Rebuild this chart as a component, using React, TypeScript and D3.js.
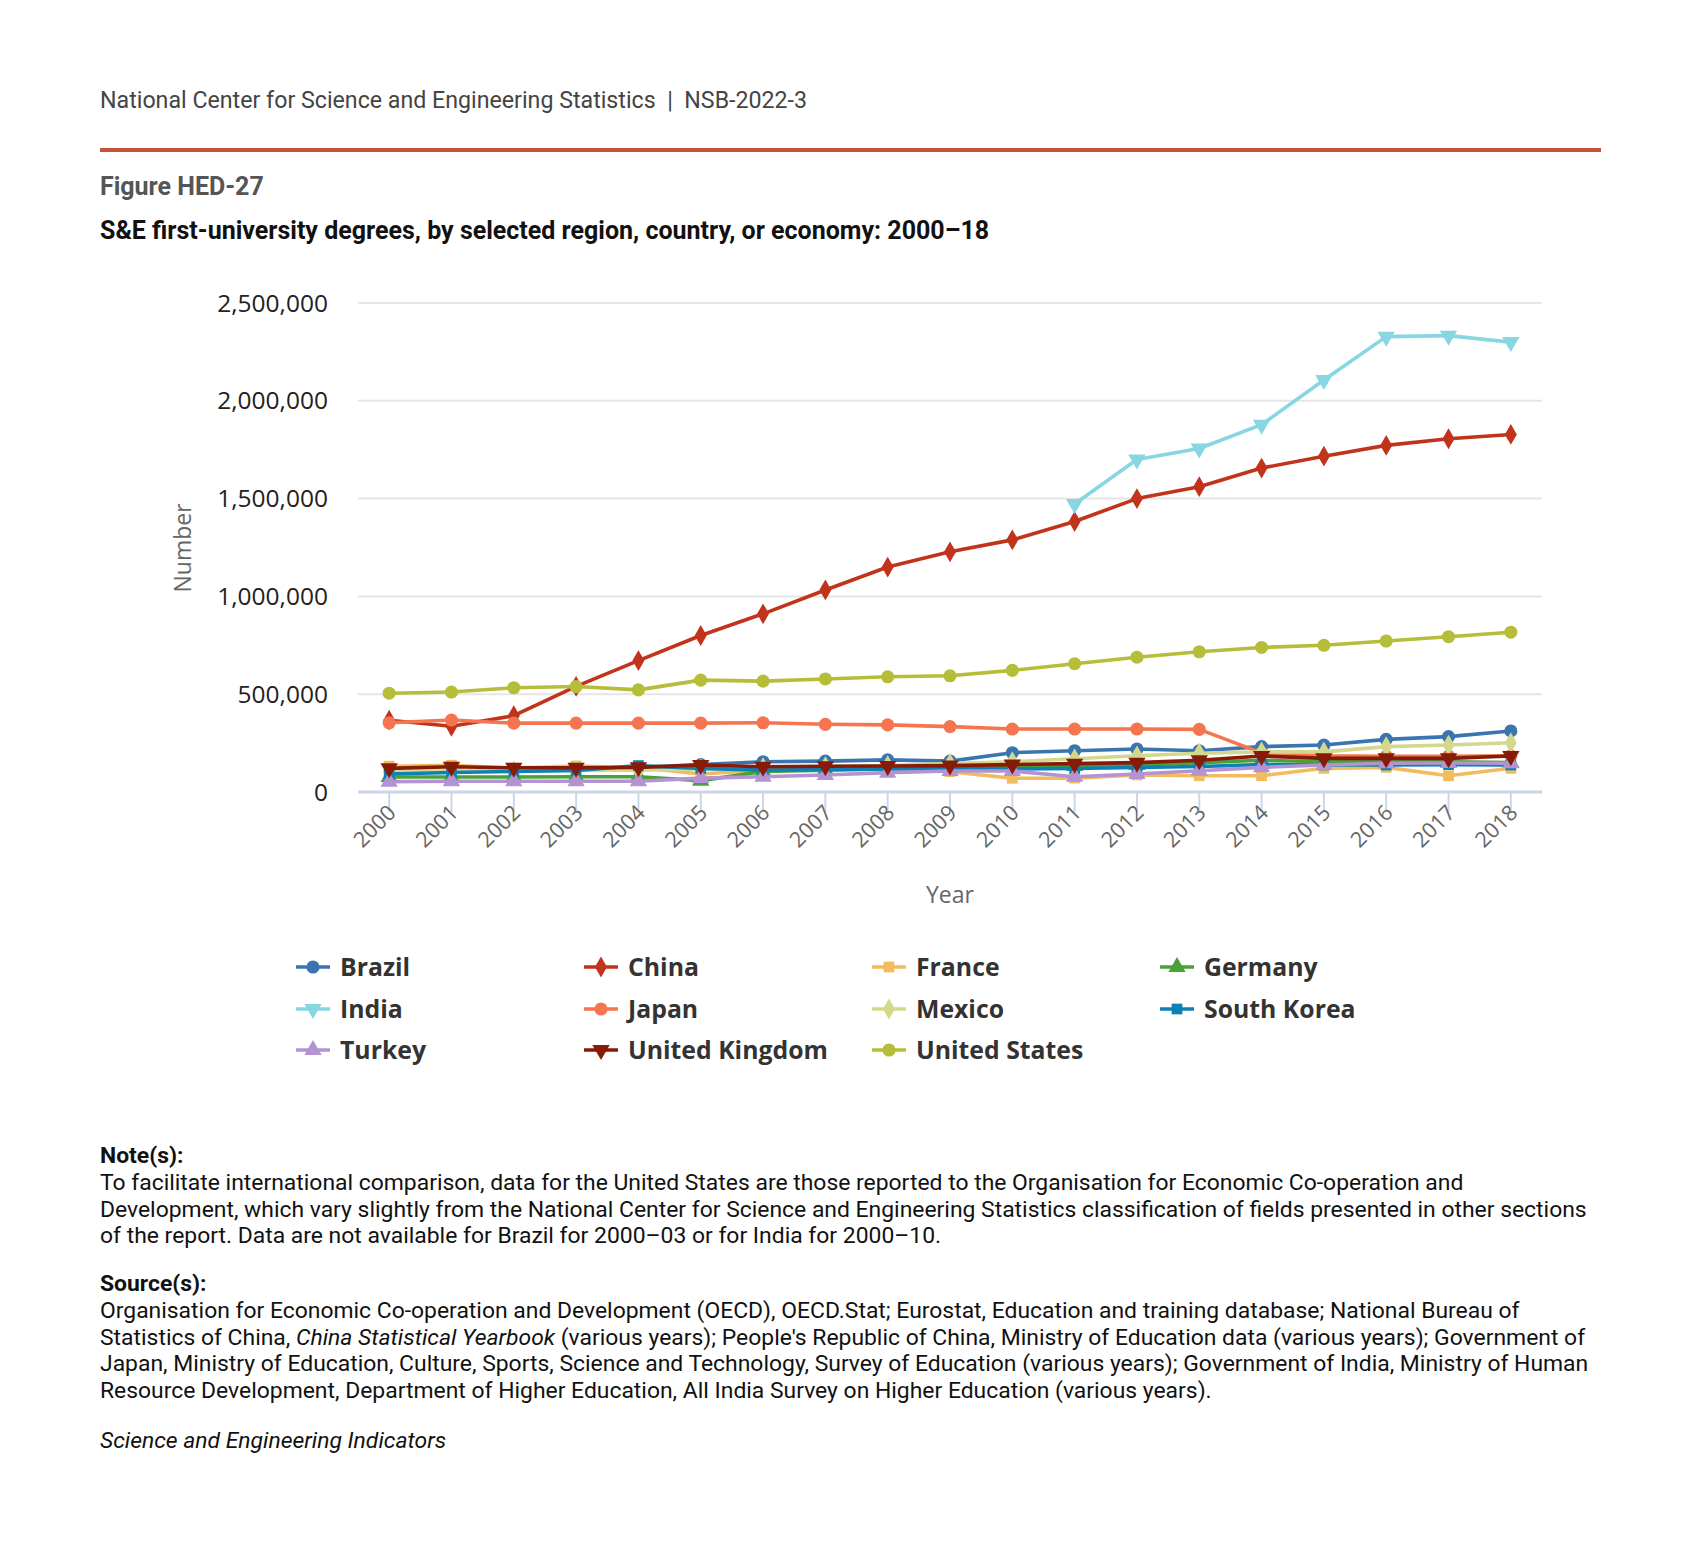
import React from "react";
import * as d3 from "d3";

const years = ["2000", "2001", "2002", "2003", "2004", "2005", "2006", "2007", "2008", "2009", "2010", "2011", "2012", "2013", "2014", "2015", "2016", "2017", "2018"];

const brazil = [null, null, null, null, 125000, 140000, 155000, 158000, 164000, 158000, 201000, 211000, 220000, 211000, 232000, 240000, 269000, 283000, 312000];
const china = [367000, 336000, 390000, 540000, 672000, 800000, 911000, 1033000, 1150000, 1228000, 1289000, 1383000, 1500000, 1561000, 1656000, 1717000, 1772000, 1806000, 1828000];
const france = [132000, 137000, 122000, 133000, 125000, 92000, 112000, 115000, 121000, 104000, 70000, 71000, 87000, 83000, 83000, 121000, 126000, 83000, 121000];
const germany = [77000, 77000, 77000, 78000, 78000, 58000, 105000, 112000, 118000, 124000, 129000, 133000, 138000, 150000, 162000, 155000, 155000, 155000, 150000];
const india = [null, null, null, null, null, null, null, null, null, null, null, 1472000, 1700000, 1756000, 1878000, 2106000, 2328000, 2333000, 2300000];
const japan = [354000, 368000, 352000, 352000, 352000, 352000, 354000, 346000, 343000, 334000, 322000, 322000, 322000, 320000, 200000, 185000, 183000, 183000, 185000];
const mexico = [105000, 108000, 108000, 110000, 112000, 118000, 125000, 130000, 135000, 145000, 155000, 170000, 185000, 198000, 205000, 205000, 232000, 240000, 252000];
const southKorea = [92000, 100000, 105000, 110000, 135000, 120000, 112000, 115000, 118000, 120000, 118000, 120000, 125000, 130000, 140000, 138000, 138000, 140000, 138000];
const turkey = [53000, 55000, 55000, 55000, 55000, 71000, 78000, 87000, 99000, 107000, 107000, 78000, 92000, 109000, 126000, 138000, 147000, 148000, 147000];
const unitedKingdom = [121000, 129000, 124000, 124000, 126000, 138000, 129000, 132000, 133000, 135000, 140000, 145000, 150000, 162000, 184000, 172000, 172000, 172000, 184000];
const unitedStates = [505000, 511000, 533000, 539000, 522000, 572000, 567000, 578000, 589000, 594000, 622000, 656000, 689000, 717000, 739000, 750000, 772000, 794000, 817000];

const yTicks = [0, 500000, 1000000, 1500000, 2000000, 2500000];

const series = [
  { name: "Brazil", values: brazil, color: "#3b75af", symbol: d3.symbolCircle },
  { name: "China", values: china, color: "#c1341b", symbol: d3.symbolDiamond },
  { name: "France", values: france, color: "#f2bb5e", symbol: d3.symbolSquare },
  { name: "Germany", values: germany, color: "#4aa03a", symbol: d3.symbolTriangle },
  { name: "India", values: india, color: "#87d6e2", symbol: "down" },
  { name: "Japan", values: japan, color: "#f4754f", symbol: d3.symbolCircle },
  { name: "Mexico", values: mexico, color: "#d4d88d", symbol: d3.symbolDiamond },
  { name: "South Korea", values: southKorea, color: "#0e80b4", symbol: d3.symbolSquare },
  { name: "Turkey", values: turkey, color: "#b493d3", symbol: d3.symbolTriangle },
  { name: "United Kingdom", values: unitedKingdom, color: "#861b07", symbol: "down" },
  { name: "United States", values: unitedStates, color: "#b6bd38", symbol: d3.symbolCircle },
];

const noteLines = [
  "To facilitate international comparison, data for the United States are those reported to the Organisation for Economic Co-operation and",
  "Development, which vary slightly from the National Center for Science and Engineering Statistics classification of fields presented in other sections",
  "of the report. Data are not available for Brazil for 2000–03 or for India for 2000–10.",
];

const W = 1700;
const H = 1563;
const left = 358;
const right = 1542;
const top = 303;
const bottom = 792;

function Marker({ symbol, color, x, y }: { symbol: any; color: string; x: number; y: number }) {
  if (symbol === "down") {
    const p = d3.symbol().type(d3.symbolTriangle).size(130)();
    return <path d={p || ""} fill={color} transform={`translate(${x},${y}) rotate(180)`} />;
  }
  const size = symbol === d3.symbolDiamond ? 125 : symbol === d3.symbolSquare ? 115 : symbol === d3.symbolTriangle ? 130 : 135;
  const p = d3.symbol().type(symbol).size(size)();
  return <path d={p || ""} fill={color} transform={`translate(${x},${y})`} />;
}

export default function App() {
  const x = d3.scalePoint<string>().domain(years).range([left, right]).padding(0.5);
  const y = d3.scaleLinear().domain([0, 2500000]).range([bottom, top]);
  const fmt = d3.format(",");

  const line = d3
    .line<number | null>()
    .defined((d) => d != null)
    .x((_, i) => x(years[i]) as number)
    .y((d) => y(d as number));

  const legendCols = [296, 584, 872, 1160];
  const legendRows = [967, 1009, 1050];

  return (
    <svg width={W} height={H} style={{ position: "absolute", left: 0, top: 0, background: "#fff" }}>
      <g fontFamily="Roboto, sans-serif">
        <text x={100} y={108} fontSize={23.2} fill="#444" style={{ whiteSpace: "pre" }}>
          {"National Center for Science and Engineering Statistics  |  NSB-2022-3"}
        </text>
        <rect x={100} y={148} width={1501} height={4} fill="#c9503b" />
        <text x={100} y={195} fontSize={25} fontWeight="bold" fill="#555">
          Figure HED-27
        </text>
        <text x={100} y={239} fontSize={25} fontWeight="bold" fill="#111">
          S&amp;E first-university degrees, by selected region, country, or economy: 2000–18
        </text>
      </g>

      <g fontFamily="'Open Sans', sans-serif">
        {yTicks.map((t) => (
          <g key={t}>
            <line x1={left} x2={right} y1={y(t)} y2={y(t)} stroke={t === 0 ? "#ccd6eb" : "#e6e6e6"} strokeWidth={t === 0 ? 3 : 2} />
            <text x={328} y={y(t)} dy="0.35em" textAnchor="end" fontSize={24.5} fill="#222">
              {fmt(t)}
            </text>
          </g>
        ))}
        {years.map((yr) => (
          <g key={yr}>
            <line x1={x(yr)} x2={x(yr)} y1={bottom} y2={bottom + 20} stroke="#ccd6eb" strokeWidth={2} />
            <text
              transform={`translate(${(x(yr) as number) + 8},${bottom + 22}) rotate(-45)`}
              textAnchor="end"
              fontSize={21.5}
              fill="#666"
            >
              {yr}
            </text>
          </g>
        ))}
        <text transform={`translate(191,548) rotate(-90)`} textAnchor="middle" fontSize={23} fill="#666">
          Number
        </text>
        <text x={950} y={903} textAnchor="middle" fontSize={23} fill="#666">
          Year
        </text>

        {series.map((s) => (
          <g key={s.name}>
            <path d={line(s.values) || ""} fill="none" stroke={s.color} strokeWidth={3.6} strokeLinejoin="round" />
            {s.values.map((v, i) =>
              v == null ? null : <Marker key={i} symbol={s.symbol} color={s.color} x={x(years[i]) as number} y={y(v)} />
            )}
          </g>
        ))}

        {series.map((s, i) => {
          const lx = legendCols[i % 4];
          const ly = legendRows[Math.floor(i / 4)];
          return (
            <g key={s.name}>
              <line x1={lx} x2={lx + 34} y1={ly} y2={ly} stroke={s.color} strokeWidth={3.6} />
              <Marker symbol={s.symbol} color={s.color} x={lx + 17} y={ly} />
              <text x={lx + 44} y={ly} dy="0.35em" fontSize={24.8} fontWeight="bold" fill="#333">
                {s.name}
              </text>
            </g>
          );
        })}
      </g>

      <g fontFamily="Roboto, sans-serif" fontSize={22.9} fill="#111">
        <text x={100} y={1163} fontWeight="bold">Note(s):</text>
        {noteLines.map((l, i) => (
          <text key={i} x={100} y={1190 + i * 26.5}>
            {l}
          </text>
        ))}
        <text x={100} y={1291} fontWeight="bold">Source(s):</text>
        <text x={100} y={1318}>
          Organisation for Economic Co-operation and Development (OECD), OECD.Stat; Eurostat, Education and training database; National Bureau of
        </text>
        <text x={100} y={1344.5}>
          Statistics of China, <tspan fontStyle="italic">China Statistical Yearbook</tspan> (various years); People's Republic of China, Ministry of Education data (various years); Government of
        </text>
        <text x={100} y={1371}>
          Japan, Ministry of Education, Culture, Sports, Science and Technology, Survey of Education (various years); Government of India, Ministry of Human
        </text>
        <text x={100} y={1397.5}>
          Resource Development, Department of Higher Education, All India Survey on Higher Education (various years).
        </text>
        <text x={100} y={1448} fontStyle="italic">Science and Engineering Indicators</text>
      </g>
    </svg>
  );
}
